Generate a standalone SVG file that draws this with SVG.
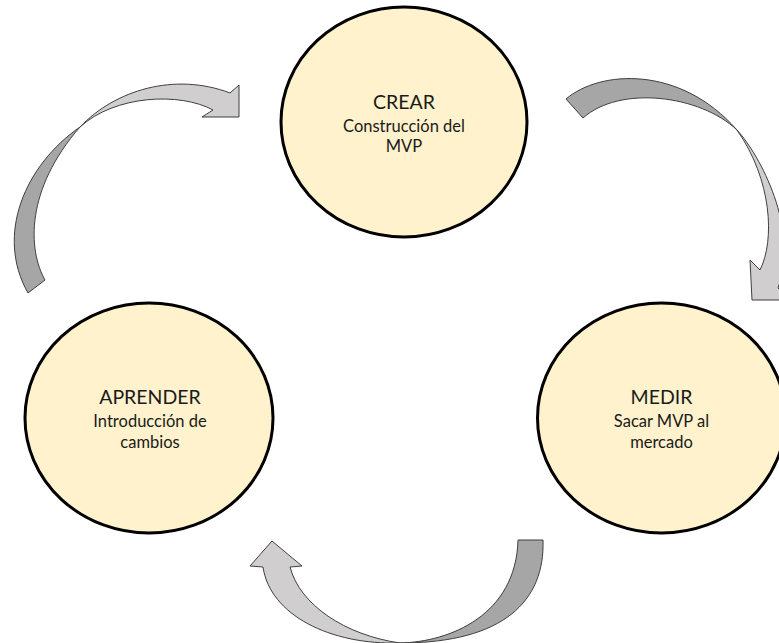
<svg xmlns="http://www.w3.org/2000/svg" width="779" height="643" viewBox="0 0 779 643">
<style>
.node{fill:#fff2cc;stroke:#000;stroke-width:3}
.dark{fill:#a6a6a6;stroke:#3f3f3f;stroke-width:1;stroke-linejoin:miter}
.light{fill:#d0cece;stroke:#3f3f3f;stroke-width:1;stroke-linejoin:miter}
.t{font-family:Lato,"Liberation Sans",sans-serif;fill:#1a1a1a;text-anchor:middle}
.h{font-size:19.5px}
.s{font-size:16.5px}
</style>
<rect width="779" height="643" fill="#fff"/>
<g id="connectors">
  <g id="arrow-aprender-crear">
    <path class="dark" d="M28,293 L45,280 C28,250 25,190 80,127 C25,165 -5,235 28,293 Z"/>
    <path class="light" d="M80,127 C115,90 175,72 230,93 L239,85 L239,117 L202,117 L213,110 C180,92 115,95 80,127 Z"/>
  </g>
  <g id="arrow-crear-medir">
    <path class="dark" d="M566,99 C600,70 680,65 737,130 C700,95 620,85 583,118 Z"/>
    <path class="light" d="M737,130 C760,155 800,230 778,288 L790,300 L752,300 L750,260 L760,270 C775,240 772,180 737,130 Z"/>
  </g>
  <g id="arrow-medir-aprender">
    <path class="dark" d="M518,540 L543,540 C545,600 505,643 400,643 C450,642 516,615 518,540 Z"/>
    <path class="light" d="M400,643 C330,645 270,615 263,567 L250,566 L272,541 L302,566 L290,567 C300,605 345,635 400,643 Z"/>
  </g>
</g>
<g id="node-crear">
  <ellipse class="node" cx="404" cy="122" rx="123" ry="115"/>
  <text class="t h" x="404" y="109">CREAR</text>
  <text class="t s" x="404" y="131.5">Construcción del</text>
  <text class="t s" x="404" y="152">MVP</text>
</g>
<g id="node-aprender">
  <ellipse class="node" cx="149" cy="418" rx="124" ry="115"/>
  <text class="t h" x="150" y="404">APRENDER</text>
  <text class="t s" x="150" y="427">Introducción de</text>
  <text class="t s" x="150" y="448">cambios</text>
</g>
<g id="node-medir">
  <ellipse class="node" cx="661.5" cy="418" rx="124" ry="115"/>
  <text class="t h" x="661.5" y="404">MEDIR</text>
  <text class="t s" x="661.5" y="427">Sacar MVP al</text>
  <text class="t s" x="661.5" y="448">mercado</text>
</g>
</svg>
